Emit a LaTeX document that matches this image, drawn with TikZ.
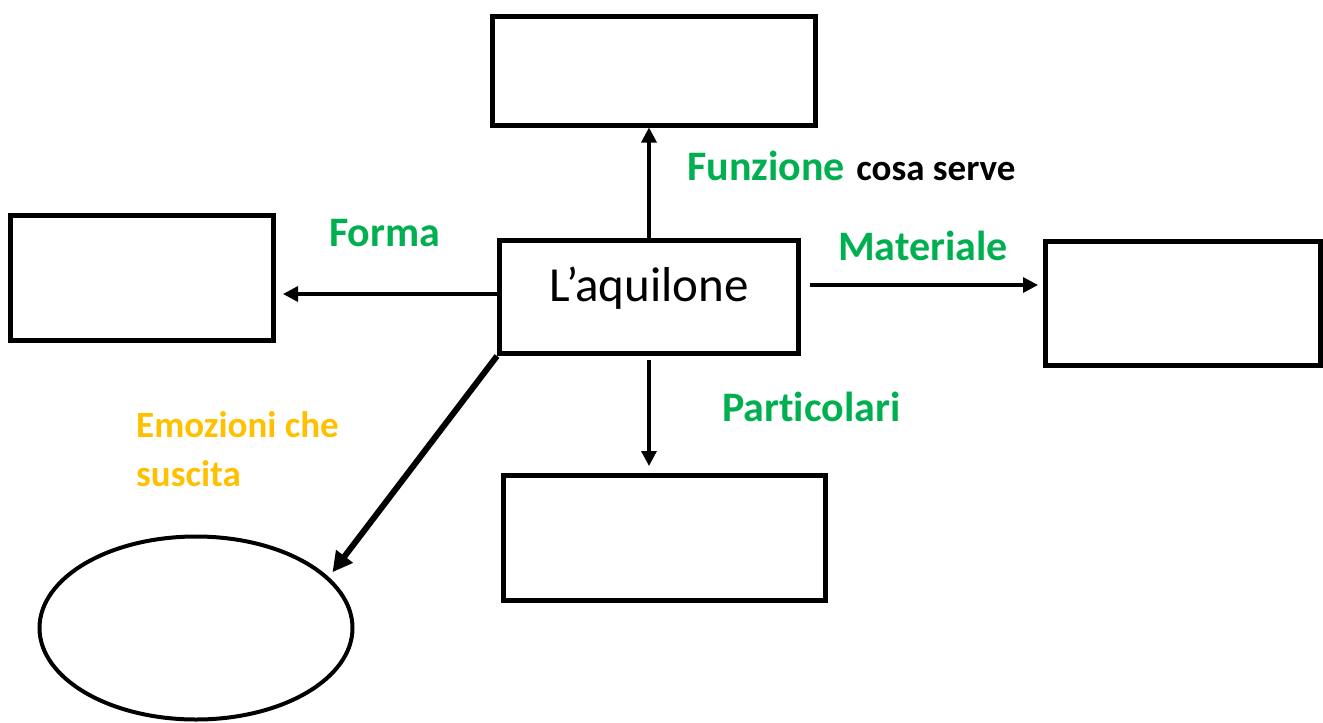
\documentclass[tikz,border=0pt]{standalone}
\usepackage{fontspec}
\setmainfont{Carlito}[Ligatures=NoCommon]
\usepackage{xcolor}
\usepackage{tikz}
\usetikzlibrary{positioning,arrows.meta,shapes.geometric}
\definecolor{AQGreen}{RGB}{0,176,80}

\begin{document}
\begin{tikzpicture}[x=1pt, y=-1pt]
					\definecolor{aqorange}{RGB}{255,192,0}
					\tikzset{
						aqbox/.style={
							shape=rectangle,
							draw=black,
							line width=5pt,
							fill=white,
							inner sep=0pt
						},
						aqoval/.style={
							shape=ellipse,
							draw=black,
							line width=4pt,
							inner sep=0pt,
							minimum width=313pt,
							minimum height=183pt
						},
						aqedge/.style={draw=black,line width=3.3pt,-{Triangle[length=15pt,width=15pt]}},
						aqthick/.style={draw=black,line width=6pt,-{Triangle[length=20pt,width=20pt]}},
						aqlabel/.style={
							anchor=base west,
							inner sep=0pt,
							font=\bfseries\fontsize{42}{50}\selectfont,
							text=AQGreen
						}
					}
					\useasboundingbox (0,0) rectangle (1323,723);
					
					\node[aqbox, minimum width=299pt, minimum height=113pt,
						text height=30pt, text depth=21pt,
						font=\fontsize{49}{58}\selectfont] (aquilone) at (649,297) {L’aquilone};
					\node[aqbox, minimum width=322.5pt, minimum height=109pt] (funzione) at (654,70.5) {};
					\node[aqbox, minimum width=263pt, minimum height=125pt] (forma) at (142,278) {};
					\node[aqbox, minimum width=275pt, minimum height=124pt] (materiale) at (1183,303.5) {};
					\node[aqbox, minimum width=322pt, minimum height=125pt] (particolari) at (664.5,538) {};
					\node[aqoval] (emozioni) at (196,628) {};
					
					% etichette
					\node[aqlabel] (lfunzione) at (687,180) {Funzione\hspace{2pt} \textcolor{black}{\fontsize{37}{44}\selectfont cosa serve}};
					\node[aqlabel] (lforma) at (329,246) {Forma};
					\node[aqlabel] (lmateriale) at (838,260) {Materiale};
					\node[aqlabel] (lparticolari) at (722,421) {Particolari};
					\node[aqlabel, text=aqorange, align=left,
						font=\bfseries\fontsize{37}{49}\selectfont] (lemozioni) at (136,486) {Emozioni che\\suscita};
					
					\draw[aqedge] (aquilone.north) -- (aquilone.north |- funzione.south);
					\draw[aqedge, shorten <=4pt, shorten >=7pt] (aquilone.south) -- (aquilone.south |- particolari.north);
					\draw[aqedge, shorten <=-4pt, shorten >=7pt] ([yshift=3pt]aquilone.west) -- ([yshift=3pt]aquilone.west -| forma.east);
					\draw[aqedge, shorten <=9pt, shorten >=5pt] ([yshift=12pt]aquilone.east) -- ([yshift=12pt]aquilone.east -| materiale.west);
					\draw[aqthick, shorten >=6pt] (aquilone.south west) -- (emozioni.21);
				\end{tikzpicture}
\end{document}
